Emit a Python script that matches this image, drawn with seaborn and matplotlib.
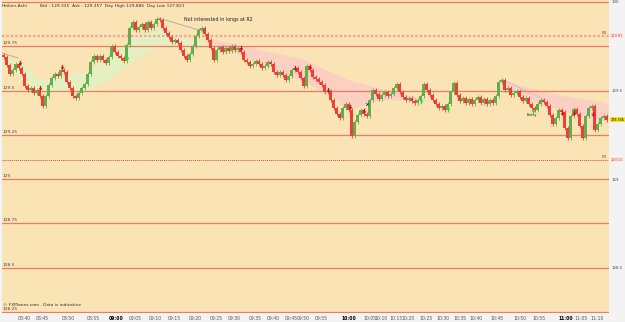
import numpy as np
import pandas as pd
import matplotlib
matplotlib.use("Agg")
import matplotlib.pyplot as plt
import matplotlib.transforms as mtransforms
import seaborn as sns

# ---------------- data ----------------
open0 = 129.700
closes = [
    129.690, 129.645, 129.594, 129.616, 129.650, 129.628, 129.594, 129.526, 129.503, 129.515,
    129.487, 129.503, 129.470, 129.413, 129.470, 129.532, 129.571, 129.594, 129.582, 129.616,
    129.605, 129.549, 129.515, 129.470, 129.458, 129.487, 129.515, 129.537, 129.594, 129.661,
    129.695, 129.673, 129.695, 129.673, 129.656, 129.690, 129.752, 129.718, 129.695, 129.684,
    129.667, 129.757, 129.853, 129.887, 129.842, 129.859, 129.876, 129.842, 129.887, 129.853,
    129.876, 129.904, 129.898, 129.853, 129.825, 129.803, 129.774, 129.786, 129.769, 129.729,
    129.695, 129.673, 129.707, 129.752, 129.808, 129.842, 129.853, 129.819, 129.786, 129.740,
    129.673, 129.729, 129.746, 129.718, 129.740, 129.723, 129.752, 129.729, 129.740, 129.718,
    129.673, 129.661, 129.639, 129.650, 129.667, 129.650, 129.628, 129.639, 129.661, 129.650,
    129.605, 129.588, 129.605, 129.588, 129.560, 129.582, 129.616, 129.628, 129.605, 129.571,
    129.526, 129.639, 129.616, 129.577, 129.566, 129.549, 129.532, 129.492, 129.498, 129.447,
    129.402, 129.368, 129.345, 129.402, 129.424, 129.391, 129.244, 129.323, 129.362, 129.391,
    129.368, 129.357, 129.447, 129.503, 129.481, 129.453, 129.475, 129.492, 129.470, 129.481,
    129.515, 129.537, 129.492, 129.464, 129.447, 129.458, 129.441, 129.430, 129.447, 129.470,
    129.537, 129.503, 129.475, 129.447, 129.424, 129.402, 129.413, 129.391, 129.424, 129.492,
    129.543, 129.475, 129.441, 129.458, 129.430, 129.453, 129.424, 129.447, 129.464, 129.430,
    129.453, 129.424, 129.447, 129.430, 129.470, 129.549, 129.560, 129.503, 129.515, 129.475,
    129.487, 129.498, 129.464, 129.441, 129.458, 129.424, 129.402, 129.391, 129.424, 129.447,
    129.436, 129.413, 129.362, 129.312, 129.345, 129.391, 129.379, 129.289, 129.233, 129.357,
    129.396, 129.368, 129.300, 129.233, 129.357, 129.402, 129.413, 129.278, 129.312, 129.345,
    129.357, 129.334,
]

time_labels = ["08:40", "08:45", "08:50", "08:55", "09:00", "09:05", "09:10", "09:15",
               "09:20", "09:25", "09:30", "09:35", "09:40", "09:45", "09:50", "09:55",
               "10:00", "10:05", "10:10", "10:15", "10:20", "10:25", "10:30", "10:35",
               "10:40", "10:45", "10:50", "10:55", "11:00", "11:05", "11:10"]
tick_bars = [7, 13, 21.5, 30, 37.5, 44, 50.5, 57, 64, 71, 77, 84, 90, 96, 100, 106,
             115, 122, 126, 131, 135, 141, 146.5, 152, 157.5, 164.5, 172, 178.5, 187.5, 192.5, 198]
bold_labels = ["09:00", "10:00", "11:00"]

sell_bars = [5.5, 12, 19.5, 79, 97, 102, 108, 115.5, 120, 186, 190, 196.5]
sell_prices = [129.655, 129.515, 129.633, 129.742, 129.630, 129.633, 129.505, 129.410,
               129.382, 129.376, 129.376, 129.370]
buy_bars = [41, 139, 148, 176.5]
buy_prices = [129.684, 129.441, 129.396, 129.385]

green_band_x = [0, 6, 12, 20, 28, 36, 44, 52, 60, 68]
green_band_hi = [129.695, 129.661, 129.560, 129.588, 129.605, 129.701, 129.814, 129.842, 129.797, 129.763]
green_band_lo = [129.684, 129.560, 129.492, 129.492, 129.503, 129.571, 129.673, 129.757, 129.740, 129.752]

pink_band1_x = [67, 79, 89, 99, 109, 115, 125, 135, 142]
pink_band1_hi = [129.797, 129.757, 129.718, 129.684, 129.605, 129.560, 129.515, 129.475, 129.447]
pink_band1_lo = [129.786, 129.701, 129.628, 129.560, 129.475, 129.391, 129.447, 129.447, 129.447]

pink_band2_x = [165.5, 175.5, 185.5, 195.5, 201.5]
pink_band2_hi = [129.560, 129.515, 129.475, 129.447, 129.424]
pink_band2_lo = [129.549, 129.447, 129.391, 129.345, 129.334]

trend1_x = [-0.5, 4.8]
trend1_y = [129.712, 129.684]
trend2_x = [51.5, 67.0]
trend2_y = [129.910, 129.832]
trend3_x = [166.0, 180.5]
trend3_y = [129.566, 129.447]

levels = [130.0, 129.75, 129.5, 129.25, 129.0, 128.75, 128.5, 128.25]
left_labels = ["", "129.75", "129.5", "129.25", "129", "128.75", "128.5", "128.25"]
right_ticks = [130.0, 129.5, 129.0, 128.5]
right_labels = ["130", "129.5", "129", "128.5"]
r2_level = 129.81
r1_level = 129.11
last_price = 129.335

# ---------------- figure ----------------
sns.set_theme(style="white")
plt.rcParams["font.family"] = ["DejaVu Sans"]

W, H = 625, 322
fig = plt.figure(figsize=(W / 100, H / 100), dpi=100)
fig.patch.set_facecolor("#f3f3f3")
ax = fig.add_axes([2 / W, 9 / H, 607 / W, 313 / H])
ax.set_facecolor("#fae3b5")
for s in ax.spines.values():
    s.set_visible(False)

n = len(closes)
df = pd.DataFrame({"bar": np.arange(n), "close": closes})
df["open"] = [open0] + closes[:-1]
df["top"] = df[["open", "close"]].max(axis=1)
df["bot"] = df[["open", "close"]].min(axis=1)
df["up"] = df["close"] >= df["open"]
wick = 0.010
df["high"] = df["top"] + wick
df["low"] = df["bot"] - wick

GREEN = "#63ad4f"
RED = "#ec3f35"

# bands
ax.fill_between(green_band_x, green_band_lo, green_band_hi, color="#e4efc2", lw=0, zorder=1)
ax.fill_between(pink_band1_x, pink_band1_lo, pink_band1_hi, color="#fbd0c3", lw=0, zorder=1)
ax.fill_between(pink_band2_x, pink_band2_lo, pink_band2_hi, color="#fbd0c3", lw=0, zorder=1)

# levels
for lv, lab in zip(levels, left_labels):
    ax.axhline(lv, color="#f2785f", lw=0.9, zorder=2)
    if lab:
        ax.text(-0.2, lv + 0.006, lab, fontsize=3.2, color="#444444", va="bottom", ha="left", zorder=6)
ax.axhline(r2_level, color="#f4a090", lw=1.6, ls=(0, (1, 1)), zorder=2)
ax.axhline(r1_level, color="#c0504a", lw=0.7, ls=(0, (1, 1)), zorder=2)

# trend lines
sns.lineplot(x=trend1_x, y=trend1_y, ax=ax, color="#a8a8a8", lw=0.6, zorder=3)
sns.lineplot(x=trend2_x, y=trend2_y, ax=ax, color="#a8a8a8", lw=0.6, zorder=3)
sns.lineplot(x=trend3_x, y=trend3_y, ax=ax, color="#a8a8a8", lw=0.6, ls=(0, (1, 1)), zorder=3)

# candles
colors = np.where(df["up"], GREEN, RED)
ax.vlines(df["bar"], df["low"], df["high"], colors=colors, lw=0.6, zorder=4)
ax.bar(df["bar"], df["top"] - df["bot"] + 0.002, bottom=df["bot"] - 0.001,
       width=0.7, color=colors, lw=0, zorder=5)

# signal arrows
down_arrow = [(-0.25, 1.0), (0.25, 1.0), (0.25, 0.1), (0.7, 0.1), (0, -1.0), (-0.7, 0.1), (-0.25, 0.1), (-0.25, 1.0)]
up_arrow = [(x, -y) for x, y in down_arrow]
ax.scatter(sell_bars, sell_prices, marker=down_arrow, s=14, color="#d41010", lw=0, zorder=7)
ax.scatter(buy_bars, buy_prices, marker=up_arrow, s=14, color="#22e022", lw=0, zorder=7)
ax.scatter([121.0], [129.424], marker="x", s=4, color="#333333", lw=0.5, zorder=7)
ax.text(176.0, 129.372, "Entry", fontsize=2.8, color="#222222", ha="center", va="top", zorder=7)

ax.set_xlim(-0.5, 201.83)
ax.set_ylim(128.245, 130.011)

# x ticks
ax.set_xticks(tick_bars)
ax.set_xticklabels(time_labels)
ax.tick_params(axis="x", labelsize=3.3, length=0, pad=2.2, colors="#555555")
for t in ax.get_xticklabels():
    if t.get_text() in bold_labels:
        t.set_fontweight("bold")
        t.set_color("#000000")

# right axis
ax.yaxis.tick_right()
ax.set_yticks(right_ticks)
ax.set_yticklabels(right_labels)
ax.tick_params(axis="y", labelsize=2.8, length=0, pad=1.5, colors="#444444")
ax.grid(False)

trans = mtransforms.blended_transform_factory(ax.transAxes, ax.transData)
ax.text(1.003, r2_level, "129.81", transform=trans, fontsize=2.6, color="#e04040",
        va="center", ha="left", clip_on=False,
        bbox=dict(boxstyle="square,pad=0.1", fc="#fbe7e4", ec="none"))
ax.text(1.003, r1_level, "129.11", transform=trans, fontsize=2.6, color="#e04040",
        va="center", ha="left", clip_on=False,
        bbox=dict(boxstyle="square,pad=0.1", fc="#fbe7e4", ec="none"))
ax.text(1.003, last_price, "129.335", transform=trans, fontsize=2.4, color="#000000",
        va="center", ha="left", clip_on=False,
        bbox=dict(boxstyle="square,pad=0.1", fc="#f2e31a", ec="none"))
ax.text(0.997, r2_level + 0.004, "R2", transform=trans, fontsize=3.0, color="#d03030",
        va="bottom", ha="right")
ax.text(0.997, r1_level + 0.004, "R1", transform=trans, fontsize=3.0, color="#d03030",
        va="bottom", ha="right")

# header & annotations
fig.text(2 / W, 1 - 6 / H, "Heiken-Ashi", fontsize=3.2, color="#333333", va="center", ha="left")
fig.text(40 / W, 1 - 6 / H, "Bid : 129.335  Ask : 129.357  Day High 129.886  Day Low 127.821",
         fontsize=3.2, color="#333333", va="center", ha="left")
ax.text(60.0, 129.902, "Not interested in longs at R2", fontsize=3.4, color="#222222",
        va="center", ha="left", zorder=8)
fig.text(3 / W, 1 - 305 / H, "\u00a9 FXPlanes.com . Data is indicative", fontsize=3.2,
         color="#333333", va="center", ha="left")

fig.savefig("out.png", dpi=100, facecolor=fig.get_facecolor())
